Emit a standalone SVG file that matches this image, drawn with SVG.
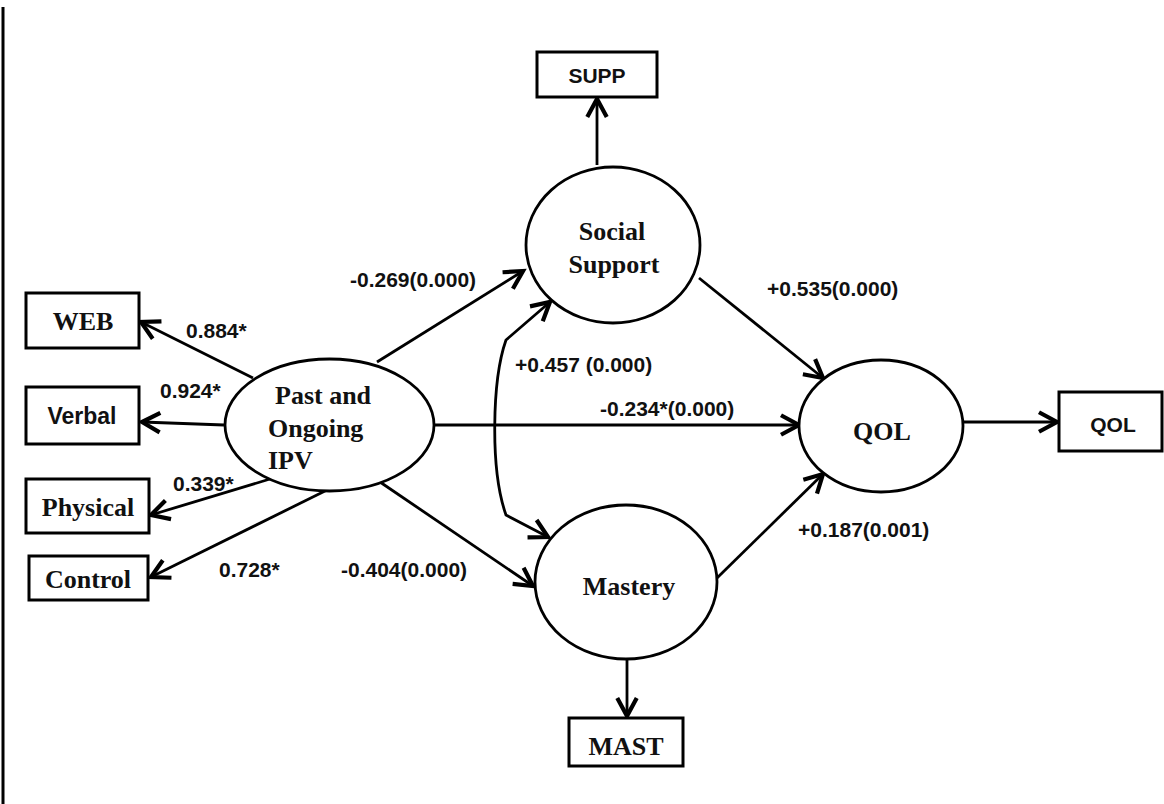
<svg xmlns="http://www.w3.org/2000/svg" width="1164" height="804" viewBox="0 0 1164 804">
<style>
.box{fill:#fff;stroke:#000;stroke-width:3}
.ell{fill:#fff;stroke:#000;stroke-width:2.8}
.ser{font-family:"Liberation Serif","Times New Roman",serif;font-weight:bold;font-size:26px;fill:#111}
.san{font-family:"Liberation Sans",Arial,sans-serif;font-weight:bold;font-size:21px;fill:#111}
.lbl{font-family:"Liberation Sans",Arial,sans-serif;font-weight:bold;font-size:21px;fill:#111}
.con{fill:none;stroke:#000;stroke-width:2.8}
</style>
<defs>
<marker id="ah" markerUnits="userSpaceOnUse" markerWidth="30" markerHeight="30" refX="0" refY="0" viewBox="-16 -10 20 20" orient="auto-start-reverse">
<path d="M-12,-6.5 L0,0 L-12,6.5" fill="none" stroke="#000" stroke-width="2.8"/>
</marker>
</defs>
<rect width="1164" height="804" fill="#fff"/>
<line x1="3" y1="7" x2="3" y2="804" stroke="#000" stroke-width="3"/>

<g id="connectors">
<line class="con" x1="597" y1="165" x2="597" y2="99" marker-end="url(#ah)"/>
<line class="con" x1="627" y1="660" x2="627" y2="716" marker-end="url(#ah)"/>
<line class="con" x1="963" y1="422" x2="1057" y2="422" marker-end="url(#ah)"/>
<line class="con" x1="434" y1="425" x2="799" y2="425" marker-end="url(#ah)"/>
<line class="con" x1="699" y1="278" x2="823" y2="378" marker-end="url(#ah)"/>
<line class="con" x1="717" y1="578" x2="823" y2="474" marker-end="url(#ah)"/>
<line class="con" x1="377" y1="362" x2="523" y2="271" marker-end="url(#ah)"/>
<line class="con" x1="380" y1="482" x2="533" y2="586" marker-end="url(#ah)"/>
<path class="con" d="M550,302 L506,340 C492,380 490,470 506,515 L548,537" marker-start="url(#ah)" marker-end="url(#ah)"/>
<line class="con" x1="253" y1="378" x2="141" y2="322" marker-end="url(#ah)"/>
<line class="con" x1="224" y1="425" x2="142" y2="422" marker-end="url(#ah)"/>
<line class="con" x1="270" y1="479" x2="151" y2="515" marker-end="url(#ah)"/>
<line class="con" x1="327" y1="490" x2="151" y2="577" marker-end="url(#ah)"/>
<text class="lbl" x="186" y="338">0.884*</text>
<text class="lbl" x="160" y="398">0.924*</text>
<text class="lbl" x="173" y="491">0.339*</text>
<text class="lbl" x="219" y="577">0.728*</text>
<text class="lbl" x="350" y="287">-0.269(0.000)</text>
<text class="lbl" x="341" y="577">-0.404(0.000)</text>
<text class="lbl" x="515" y="372">+0.457 (0.000)</text>
<text class="lbl" x="600" y="416">-0.234*(0.000)</text>
<text class="lbl" x="767" y="296">+0.535(0.000)</text>
<text class="lbl" x="798" y="537">+0.187(0.001)</text>
</g>

<g id="web"><rect class="box" x="26" y="293" width="113" height="55"/><text class="ser" x="83" y="330" text-anchor="middle">WEB</text></g>
<g id="verbal"><rect class="box" x="26" y="387" width="113" height="57"/><text class="san" x="82" y="424" text-anchor="middle" style="font-size:23px">Verbal</text></g>
<g id="physical"><rect class="box" x="26" y="479" width="123" height="54"/><text class="ser" x="88" y="516" text-anchor="middle">Physical</text></g>
<g id="control"><rect class="box" x="29" y="556" width="119" height="44"/><text class="ser" x="88" y="588" text-anchor="middle">Control</text></g>

<g id="ipv"><ellipse class="ell" cx="329.5" cy="425" rx="104.5" ry="66"/>
<text class="ser" x="275" y="404">Past and</text>
<text class="ser" x="268" y="437">Ongoing</text>
<text class="ser" x="268" y="469">IPV</text></g>

<g id="supp"><rect class="box" x="537" y="52" width="120" height="45"/><text class="san" x="597" y="83" text-anchor="middle">SUPP</text></g>
<g id="social"><ellipse class="ell" cx="613" cy="245" rx="87" ry="78"/>
<text class="ser" x="612" y="240" text-anchor="middle">Social</text>
<text class="ser" x="614" y="273" text-anchor="middle">Support</text></g>

<g id="mastery"><ellipse class="ell" cx="626" cy="582" rx="91" ry="77"/>
<text class="ser" x="629" y="595" text-anchor="middle">Mastery</text></g>
<g id="mast"><rect class="box" x="569" y="718" width="114" height="48"/><text class="ser" x="626" y="755" text-anchor="middle">MAST</text></g>

<g id="qol"><ellipse class="ell" cx="881" cy="426" rx="82" ry="66"/>
<text class="ser" x="882" y="440" text-anchor="middle">QOL</text></g>
<g id="qolbox"><rect class="box" x="1059" y="392" width="103" height="59"/><text class="san" x="1113" y="432" text-anchor="middle">QOL</text></g>
</svg>
